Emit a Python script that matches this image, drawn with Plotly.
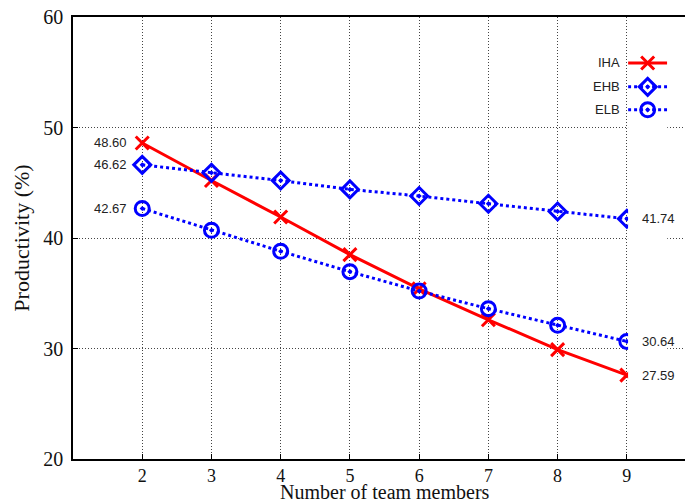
import plotly.graph_objects as go

# Team size vs. productivity for three allocation strategies
team_members = [2, 3, 4, 5, 6, 7, 8, 9]
iha = [48.60, 45.2, 41.9, 38.5, 35.4, 32.6, 29.9, 27.59]
ehb = [46.62, 45.9, 45.2, 44.4, 43.8, 43.1, 42.4, 41.74]
elb = [42.67, 40.7, 38.8, 36.95, 35.2, 33.6, 32.1, 30.64]

x_ticks = [2, 3, 4, 5, 6, 7, 8, 9]
y_ticks = [20, 30, 40, 50, 60]

RED = "#ff0000"
BLUE = "#0000ff"
SERIF = "Liberation Serif, Times New Roman, serif"
SANS = "Liberation Sans, Arial, sans-serif"

series = [
    ("IHA", iha, dict(color=RED, width=3, dash="solid"),
     dict(symbol="x-thin-open", size=13, color=RED, line=dict(color=RED, width=3))),
    ("EHB", ehb, dict(color=BLUE, width=3, dash="dot"),
     dict(symbol="diamond-open-dot", size=13, color=BLUE, line=dict(color=BLUE, width=3))),
    ("ELB", elb, dict(color=BLUE, width=3, dash="dot"),
     dict(symbol="circle-open-dot", size=14, color=BLUE, line=dict(color=BLUE, width=3))),
]

fig = go.Figure()
for name, vals, line, marker in series:
    fig.add_trace(go.Scatter(x=team_members, y=vals, mode="lines+markers",
                             name=name, line=line, marker=marker,
                             showlegend=False))

# Key drawn in the upper-right corner: label, then a sample line with marker
key_rows = [0.896, 0.842, 0.790]
for (name, vals, line, marker), ky in zip(series, key_rows):
    fig.add_trace(go.Scatter(x=[0.0, 0.5, 1.0], y=[ky, ky, ky], mode="lines",
                             line=line, xaxis="x2", yaxis="y2",
                             showlegend=False, hoverinfo="skip"))
    fig.add_trace(go.Scatter(x=[0.5], y=[ky], mode="markers", marker=marker,
                             xaxis="x2", yaxis="y2", showlegend=False,
                             hoverinfo="skip"))
    fig.add_annotation(x=0, y=ky, xref="x2", yref="y2", text=name,
                       showarrow=False, xanchor="right", xshift=-6,
                       font=dict(family=SANS, size=13, color="#222222"))

# End-point value labels
label_font = dict(family=SANS, size=13, color="#222222")
for vals in (iha, ehb, elb):
    fig.add_annotation(x=team_members[0], y=vals[0], text=f"{vals[0]:.2f}",
                       showarrow=False, xanchor="right", xshift=-13,
                       font=label_font)
for vals in (ehb, elb, iha):
    fig.add_annotation(x=team_members[-1], y=vals[-1], text=f"{vals[-1]:.2f}",
                       showarrow=False, xanchor="left", xshift=13,
                       font=label_font)

# X axis title, centred under the full (wider) frame
fig.add_annotation(x=0.509, y=0, xref="paper", yref="paper",
                   text="Number of team members", showarrow=False,
                   xanchor="center", yanchor="top", yshift=-20,
                   font=dict(family=SERIF, size=20, color="#111111"))

axis_common = dict(showline=True, linecolor="black", linewidth=1.5,
                   ticks="inside", ticklen=5, tickcolor="black",
                   showgrid=True, gridcolor="#444444", gridwidth=1,
                   griddash="1px,2px", zeroline=False)

fig.update_layout(
    width=685, height=504,
    margin=dict(l=73, r=0, t=17, b=45),
    paper_bgcolor="white", plot_bgcolor="white",
    xaxis=dict(range=[1, 9.84], tickvals=x_ticks, mirror=True,
               tickfont=dict(family=SERIF, size=18, color="#111111"),
               **axis_common),
    yaxis=dict(range=[20, 60], tickvals=y_ticks, ticklabelstandoff=4,
               tickfont=dict(family=SERIF, size=20, color="#111111"),
               title=dict(text="Productivity (%)", standoff=8,
                          font=dict(family=SERIF, size=22, color="#111111")),
               **axis_common),
    xaxis2=dict(domain=[0.907, 0.971], range=[0, 1],
                visible=False, anchor="y2"),
    yaxis2=dict(domain=[0, 1], range=[0, 1], visible=False, anchor="x2"),
)

fig.write_html("out.html")
